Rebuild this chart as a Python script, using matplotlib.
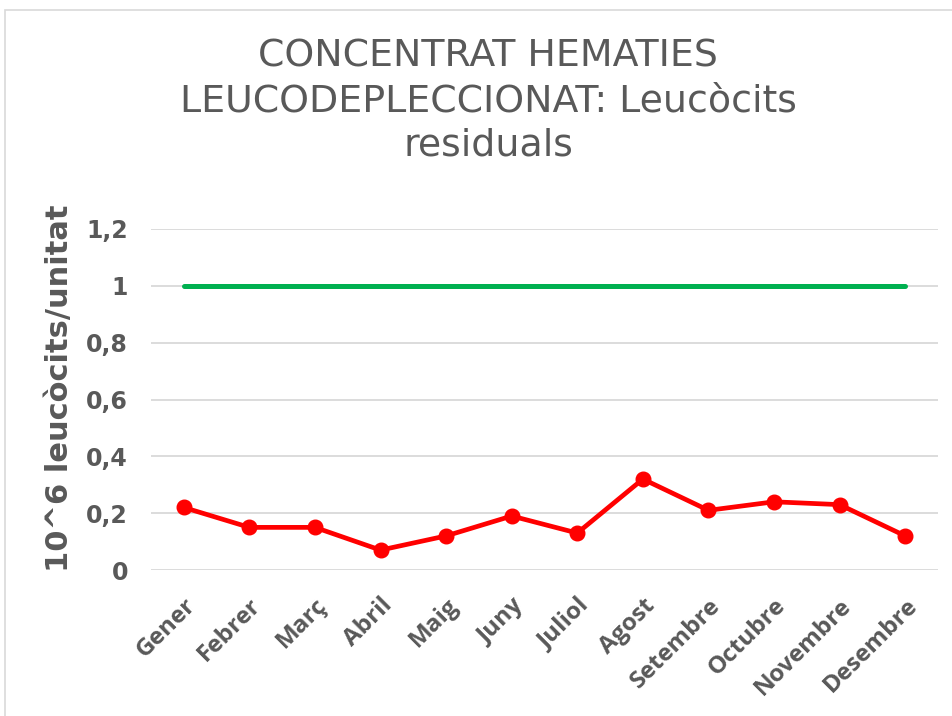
import matplotlib
matplotlib.use("Agg")
import matplotlib.pyplot as plt
from matplotlib.patches import Rectangle
from matplotlib.ticker import FuncFormatter

months = ["Gener", "Febrer", "Març", "Abril", "Maig", "Juny", "Juliol",
          "Agost", "Setembre", "Octubre", "Novembre", "Desembre"]
leucocits = [0.22, 0.15, 0.15, 0.07, 0.12, 0.19, 0.13, 0.32, 0.21, 0.24, 0.23, 0.12]
limit = [1, 1, 1, 1, 1, 1, 1, 1, 1, 1, 1, 1]
yticks = [0, 0.2, 0.4, 0.6, 0.8, 1.0, 1.2]

gray = "#595959"

fig = plt.figure(figsize=(9.53, 7.16), dpi=100)
fig.patches.append(Rectangle((5/953, -0.1), 1.2, 1 - 10/716 + 0.1,
                             transform=fig.transFigure, fill=False,
                             edgecolor="#d9d9d9", linewidth=1.2))
ax = fig.add_axes([151/953, 1 - 570/716, (938 - 151)/953, (570 - 229)/716])

x = list(range(len(months)))
ax.plot(x, limit, color="#00b050", linewidth=3.6, solid_capstyle="round", zorder=3)
ax.plot(x, leucocits, color="#ff0000", linewidth=3.4, marker="o", markersize=10.5,
        zorder=4, solid_joinstyle="round")

ax.set_xlim(-0.5, len(months) - 0.5)
ax.set_ylim(0, 1.2)
ax.set_yticks(yticks)
ax.yaxis.set_major_formatter(FuncFormatter(lambda v, p: ("%g" % round(v, 1)).replace(".", ",")))
ax.grid(axis="y", color="#d9d9d9", linewidth=1.3)
ax.set_axisbelow(True)
for s in ax.spines.values():
    s.set_visible(False)
ax.tick_params(axis="both", length=0)
ax.tick_params(axis="y", pad=16.5)
for t in ax.get_yticklabels():
    t.set_fontsize(17)
    t.set_fontweight("bold")
    t.set_color(gray)
    t.set_family("DejaVu Sans")

ax.set_xticks(x)
ax.set_xticklabels(months, rotation=45, ha="right", va="top", rotation_mode="anchor",
                   fontsize=17.5, fontweight="bold", color=gray, family="Open Sans")
ax.tick_params(axis="x", pad=17)

fig.text(60/953, 1 - 388/716, "10^6 leucòcits/unitat", rotation=90,
         ha="center", va="center", fontsize=22, fontweight="bold", color=gray)

fig.text(488/953, 1 - 101/716,
         "CONCENTRAT HEMATIES\nLEUCODEPLECCIONAT: Leucòcits\nresiduals",
         ha="center", va="center", fontsize=27.3, color=gray, linespacing=1.3)

fig.savefig("out.png", dpi=100)
